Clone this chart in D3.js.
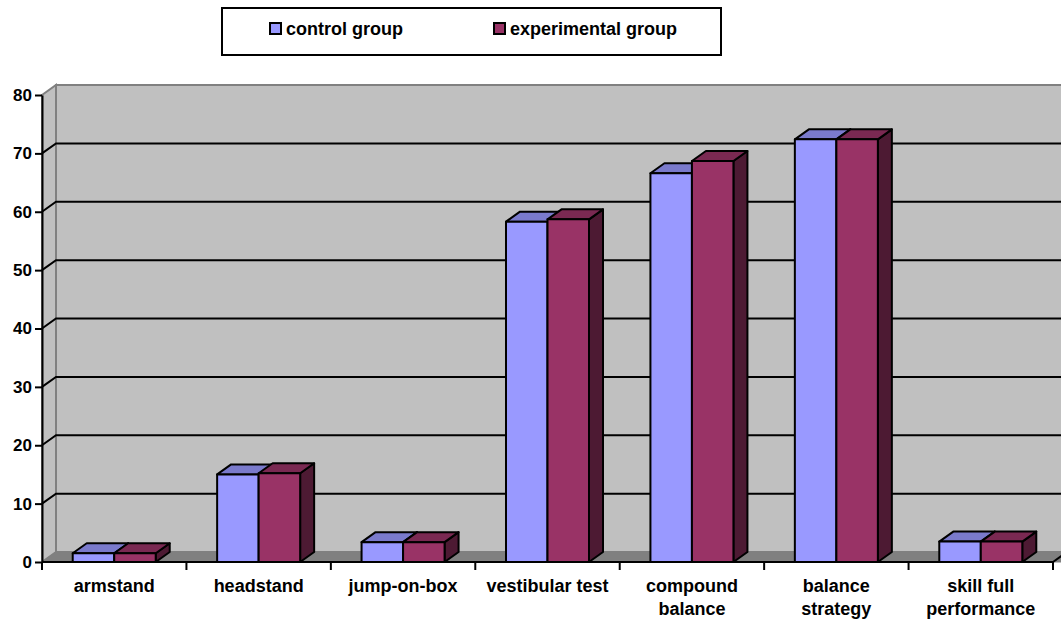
<!DOCTYPE html>
<html>
<head>
<meta charset="utf-8">
<script src="https://cdn.jsdelivr.net/npm/d3@7/dist/d3.min.js"></script>
<style>
  html, body { margin: 0; padding: 0; background: #ffffff; }
  svg { display: block; font-family: "Liberation Sans", Arial, sans-serif; font-weight: bold; }
</style>
</head>
<body>
<svg id="chart" width="1061" height="622"></svg>
<script>
// Category names and wrapped axis labels
const categories = ["armstand", "headstand", "jump-on-box", "vestibular test", "compound balance", "balance strategy", "skill full performance"];
const categoryLabels = [["armstand"], ["headstand"], ["jump-on-box"], ["vestibular test"], ["compound", "balance"], ["balance", "strategy"], ["skill full", "performance"]];

// Series
const seriesNames = ["control group", "experimental group"];
const controlValues = [1.5, 15.0, 3.4, 58.3, 66.6, 72.4, 3.5];
const experimentalValues = [1.5, 15.2, 3.4, 58.7, 68.7, 72.4, 3.5];

// Value axis ticks
const yTicks = [0, 10, 20, 30, 40, 50, 60, 70, 80];

const svg = d3.select("#chart");

// Plot geometry (front plane) and 3D depth offset
const plotLeft = 42, plotRight = 1053, plotTop = 95, plotBase = 562;
const dx = 14, dy = -10;

const y = d3.scaleLinear().domain([0, 80]).range([plotBase, plotTop]);
const x0 = d3.scaleBand().domain(categories).range([plotLeft, plotRight]).paddingInner(0).paddingOuter(0);
const x1 = d3.scaleBand().domain(seriesNames).range([0, x0.bandwidth()]).paddingInner(0).paddingOuter(0.74);

const colors = {
  "control group": { front: "#9999FF", top: "#7A7ACC", side: "#5C5C99" },
  "experimental group": { front: "#993366", top: "#7A2952", side: "#4D1A33" }
};

// Walls and floor
const g = svg.append("g");
g.append("rect")
  .attr("x", plotLeft + dx).attr("y", plotTop + dy)
  .attr("width", plotRight - plotLeft + 20).attr("height", plotBase - plotTop)
  .attr("fill", "#C0C0C0").attr("stroke", "#808080").attr("stroke-width", 2);
g.append("path")
  .attr("d", `M${plotLeft},${plotTop} L${plotLeft + dx},${plotTop + dy} L${plotLeft + dx},${plotBase + dy} L${plotLeft},${plotBase} Z`)
  .attr("fill", "#C0C0C0").attr("stroke", "#808080").attr("stroke-width", 2);
g.append("path")
  .attr("d", `M${plotLeft},${plotBase} L${plotLeft + dx},${plotBase + dy} L${plotRight + dx + 20},${plotBase + dy} L${plotRight + 20},${plotBase} Z`)
  .attr("fill", "#808080").attr("stroke", "#808080").attr("stroke-width", 1);

// Gridlines on side and back walls
g.selectAll(".grid")
  .data(yTicks.filter(v => v > 0 && v < 80))
  .join("path")
  .attr("class", "grid")
  .attr("d", v => `M${plotLeft},${y(v)} L${plotLeft + dx},${y(v) + dy} L${plotRight + dx + 20},${y(v) + dy}`)
  .attr("fill", "none").attr("stroke", "#000").attr("stroke-width", 2);

// Bars as 3D columns
const bars = [];
categories.forEach((c, i) => {
  bars.push({ cat: c, series: "control group", value: controlValues[i] });
  bars.push({ cat: c, series: "experimental group", value: experimentalValues[i] });
});

const barG = svg.append("g")
  .attr("stroke", "#000").attr("stroke-width", 2).attr("stroke-linejoin", "round");

bars.forEach(b => {
  const xa = x0(b.cat) + x1(b.series);
  const w = x1.bandwidth();
  const yt = y(b.value);
  const col = colors[b.series];
  const bg = barG.append("g");
  bg.append("path")
    .attr("d", `M${xa + w},${yt} L${xa + w + dx},${yt + dy} L${xa + w + dx},${plotBase + dy} L${xa + w},${plotBase} Z`)
    .attr("fill", col.side);
  bg.append("path")
    .attr("d", `M${xa},${yt} L${xa + dx},${yt + dy} L${xa + w + dx},${yt + dy} L${xa + w},${yt} Z`)
    .attr("fill", col.top);
  bg.append("rect")
    .attr("x", xa).attr("y", yt).attr("width", w).attr("height", plotBase - yt)
    .attr("fill", col.front);
});

// Value axis
const yAxis = svg.append("g")
  .attr("transform", `translate(${plotLeft},0)`)
  .call(d3.axisLeft(y).tickValues(yTicks).tickSize(7).tickSizeOuter(0).tickPadding(3));
yAxis.select(".domain").attr("stroke", "#000").attr("stroke-width", 2);
yAxis.selectAll(".tick line").attr("stroke", "#000").attr("stroke-width", 2);
yAxis.selectAll(".tick text")
  .attr("font-size", 17).attr("font-weight", "bold").attr("fill", "#000")
  .attr("font-family", "'Liberation Sans', Arial, sans-serif");

// Category axis
const xAxisG = svg.append("g");
xAxisG.append("line")
  .attr("x1", plotLeft).attr("x2", plotRight).attr("y1", plotBase).attr("y2", plotBase)
  .attr("stroke", "#000").attr("stroke-width", 2);
xAxisG.append("line")
  .attr("x1", plotRight).attr("x2", plotRight + dx).attr("y1", plotBase).attr("y2", plotBase + dy)
  .attr("stroke", "#000").attr("stroke-width", 2);
const boundaries = categories.map(c => x0(c)).concat([plotRight]);
xAxisG.selectAll(".xtick")
  .data(boundaries)
  .join("line")
  .attr("x1", d => d).attr("x2", d => d)
  .attr("y1", plotBase).attr("y2", plotBase + 8)
  .attr("stroke", "#000").attr("stroke-width", 2);

xAxisG.selectAll(".xlabel")
  .data(categories)
  .join("text")
  .attr("text-anchor", "middle")
  .attr("font-size", 18)
  .attr("fill", "#000")
  .each(function (c, i) {
    const t = d3.select(this);
    categoryLabels[i].forEach((line, k) => {
      t.append("tspan")
        .attr("x", x0(c) + x0.bandwidth() / 2)
        .attr("y", 592 + k * 22.5)
        .text(line);
    });
  });

// Legend
const legend = svg.append("g");
legend.append("rect")
  .attr("x", 222).attr("y", 8).attr("width", 499).attr("height", 47)
  .attr("fill", "#fff").attr("stroke", "#000").attr("stroke-width", 2);
const legendItems = [
  { name: seriesNames[0], sx: 270, tx: 286 },
  { name: seriesNames[1], sx: 494, tx: 510 }
];
legendItems.forEach(it => {
  legend.append("rect")
    .attr("x", it.sx).attr("y", 23).attr("width", 11).attr("height", 11)
    .attr("fill", colors[it.name].front).attr("stroke", "#000").attr("stroke-width", 2);
  legend.append("text")
    .attr("x", it.tx).attr("y", 35)
    .attr("font-size", 18).attr("fill", "#000")
    .text(it.name);
});
</script>
</body>
</html>
